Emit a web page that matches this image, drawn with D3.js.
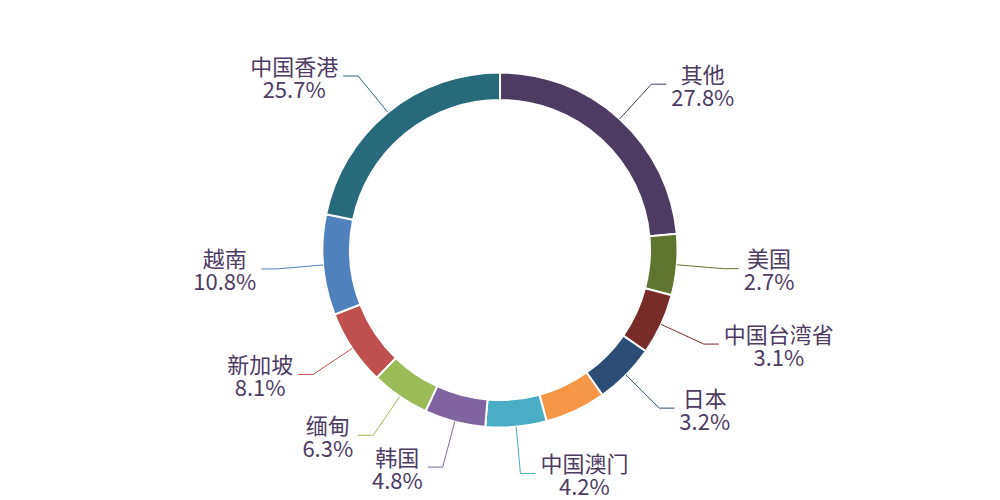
<!DOCTYPE html>
<html>
<head>
<meta charset="utf-8">
<script src="https://cdn.jsdelivr.net/npm/d3@7"></script>
<style>
  html, body { margin: 0; padding: 0; background: #fff; }
  svg { display: block; }
</style>
</head>
<body>
<svg id="chart"></svg>
<script>
// slices in clockwise order from 12 o'clock; the empty name is a slice whose label is hidden
const names = ['其他', '美国', '中国台湾省', '日本', '', '中国澳门', '韩国', '缅甸', '新加坡', '越南', '中国香港'];
const shares = [27.8, 2.7, 3.1, 3.2, 3.3, 4.2, 4.8, 6.3, 8.1, 10.8, 25.7];
const colors = ['#4d3b62', '#5f7530', '#772c2a', '#2c4d75', '#f79646', '#4bacc6', '#8064a2', '#9bbb59', '#c0504d', '#4f81bd', '#276a7c'];

const width = 1000, height = 500;
const cx = 500, cy = 250;
const innerR = 150, outerR = 177.5;
const minAngle = 20;          // degrees, small slices get at least this
const lineLen = 47, lineLen2 = 15;
const fontSize = 22, lineGap = 23;
const textColor = '#4d3b62';

const svg = d3.select('#chart')
  .attr('width', width)
  .attr('height', height)
  .style('font-family', '"Noto Sans CJK SC", "Noto Sans", sans-serif');

// minAngle layout: small slices take minAngle, the rest share what is left
const total = d3.sum(shares);
const isSmall = shares.map(v => v / total * 360 < minAngle);
const restAngle = 360 - minAngle * isSmall.filter(Boolean).length;
const sumLarge = d3.sum(shares.filter((v, i) => !isSmall[i]));
const layoutAngle = shares.map((v, i) => isSmall[i] ? minAngle : v / sumLarge * restAngle);

const data = names.map((n, i) => ({ name: n, share: shares[i], color: colors[i], angle: layoutAngle[i] }));

const pie = d3.pie()
  .sort(null)
  .value(d => d.angle)
  .startAngle(0)
  .endAngle(2 * Math.PI);

const arcs = pie(data);

const arc = d3.arc()
  .innerRadius(innerR)
  .outerRadius(outerR);

const g = svg.append('g')
  .attr('transform', `translate(${cx},${cy})`);

g.selectAll('.slice')
  .data(arcs)
  .join('path')
    .attr('class', 'slice')
    .attr('d', arc)
    .attr('fill', d => d.data.color)
    .attr('stroke', '#fff')
    .attr('stroke-width', 2);

// labels
const labelled = arcs.filter(d => d.data.name !== '');

const polar = (a, r) => [Math.sin(a) * r, -Math.cos(a) * r];

// measure text widths
const measure = svg.append('text').attr('font-size', fontSize).attr('visibility', 'hidden');
const textWidth = s => { measure.text(s); return measure.node().getComputedTextLength(); };

labelled.forEach(d => {
  const mid = (d.startAngle + d.endAngle) / 2;
  const p0 = polar(mid, outerR);
  const p1 = polar(mid, outerR + lineLen);
  const right = p1[0] >= 0;
  const p2 = [p1[0] + (right ? lineLen2 : -lineLen2), p1[1]];

  g.append('polyline')
    .attr('points', [p0, p1, p2].map(p => p.join(',')).join(' '))
    .attr('fill', 'none')
    .attr('stroke', d.data.color)
    .attr('stroke-width', 1);

  const lines = [d.data.name, d3.format('.1f')(d.data.share) + '%'];
  const blockW = d3.max(lines, textWidth);
  const tx = right ? p2[0] + 5 + blockW / 2 : p2[0] - 5 - blockW / 2;

  lines.forEach((s, k) => {
    g.append('text')
      .attr('font-size', fontSize)
      .attr('fill', textColor)
      .attr('text-anchor', 'middle')
      .attr('x', tx)
      .attr('y', p2[1] + (k === 0 ? -lineGap / 2 : lineGap / 2))
      .attr('dominant-baseline', 'central')
      .text(s);
  });
});

measure.remove();
</script>
</body>
</html>
